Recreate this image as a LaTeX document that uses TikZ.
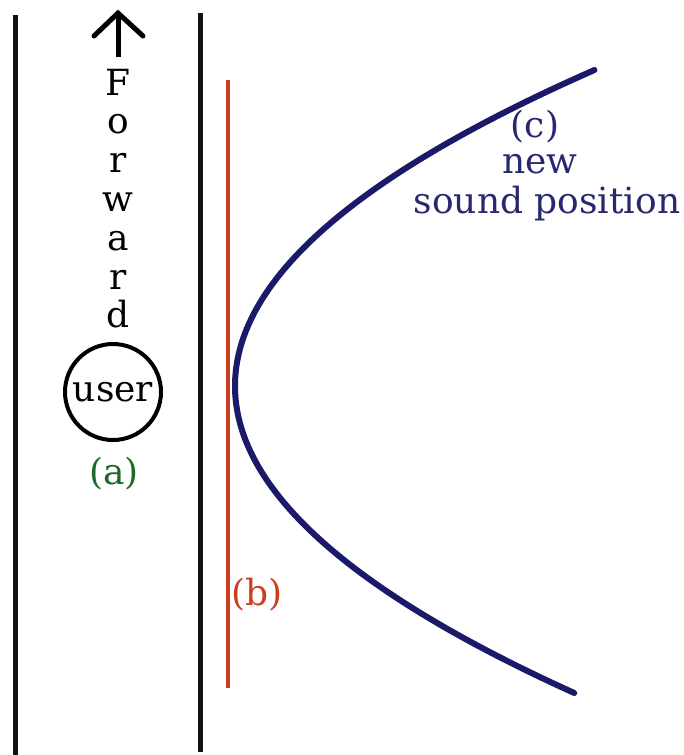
\documentclass[tikz,border=0pt]{standalone}
\usepackage{fontspec}
\setmainfont{DejaVu Serif}
\definecolor{wallblack}{RGB}{18,18,18}
\definecolor{wallred}{RGB}{204,62,30}
\definecolor{navy}{RGB}{26,26,104}
\definecolor{labelnavy}{RGB}{40,40,112}
\definecolor{labelgreen}{RGB}{30,105,40}
\tikzset{
  wall/.style={draw=wallblack, line width=5pt},
  redwall/.style={draw=wallred, line width=4pt},
  txt/.style={inner sep=0pt, font=\fontsize{36}{40}\selectfont},
  fwdletter/.style={txt, anchor=base, text=black},
  userbox/.style={circle, draw=black, line width=4pt, minimum size=96pt, inner sep=0pt, font=\fontsize{36}{40}\selectfont},
  soundcurve/.style={draw=navy, line width=6pt, line cap=round}
}
\begin{document}
\begin{tikzpicture}[x=1pt, y=-1pt]
\useasboundingbox (0,0) rectangle (684,755);
% walls
\coordinate (w1t) at (15,15);  \coordinate (w1b) at (15,755);
\coordinate (w2t) at (200,13); \coordinate (w2b) at (200,752);
\coordinate (rt) at (228,80);  \coordinate (rb) at (228,688);
\draw[wall] (w1t) -- (w1b);
\draw[wall] (w2t) -- (w2b);
\draw[redwall] (rt) -- (rb);
% forward letters
\foreach \ch [count=\i] in {F,o,r,w,a,r,d}
  \node[fwdletter] (f\i) at (118, {95+38.8*(\i-1)}) {\ch};
% arrow
\coordinate (atip) at (118,13);
\coordinate (abase) at (118,57);
\coordinate (aleft) at (94,36);
\coordinate (aright) at (143,36);
\draw[line width=5pt, line cap=butt] (abase) -- (atip);
\draw[line width=5pt, line cap=round, line join=miter, miter limit=4] (aleft) -- (atip) -- (aright);
% user
\node[userbox] (user) at (113,392) {user};
\node[txt, text=labelgreen] (la) at (114,474) {(a)};
% (b)
\node[txt, text=wallred] (lb) at (257,595) {(b)};
% curve
\draw[soundcurve] plot[domain=70:693, samples=80, smooth] ({235+36*((\x-386)/100)^2}, \x);
% (c)
\node[txt, text=labelnavy, anchor=base] (lc) at (535,137) {(c)};
\node[txt, text=labelnavy, anchor=base] (lnew) at (540,173) {new};
\node[txt, text=labelnavy, anchor=base] (lsound) at (547,213) {sound position};
\end{tikzpicture}
\end{document}
